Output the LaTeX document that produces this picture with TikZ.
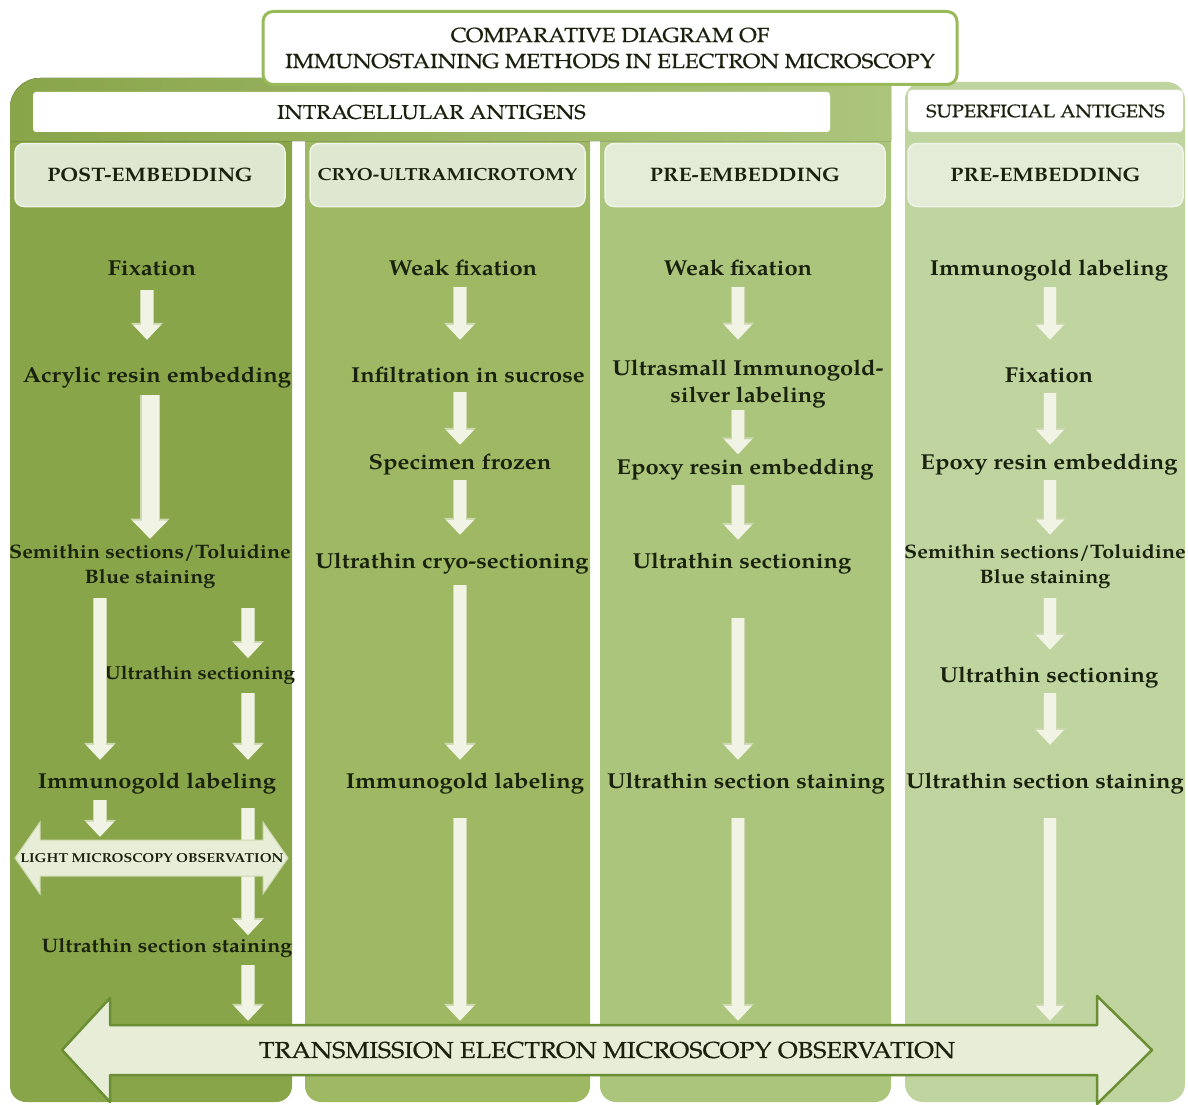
\documentclass[tikz,border=0pt]{standalone}
\usepackage{fontspec}
\setmainfont{TeX Gyre Pagella}[FakeStretch=1.1]
\newfontfamily\capsfont{TeX Gyre Pagella}[FakeStretch=1.1, FakeBold=0.6]
\usetikzlibrary{arrows.meta,calc}
\definecolor{colA}{RGB}{137,165,74}
\definecolor{colB}{RGB}{158,184,99}
\definecolor{colC}{RGB}{172,197,124}
\definecolor{colD}{RGB}{192,212,160}
\definecolor{hdrA}{RGB}{222,231,208}
\definecolor{hdrB}{RGB}{228,236,216}
\definecolor{hdredge}{RGB}{240,244,232}
\definecolor{arrf}{RGB}{241,244,229}
\definecolor{arre}{RGB}{205,216,176}
\definecolor{txt}{RGB}{26,34,14}
\definecolor{frame}{RGB}{152,186,88}
\definecolor{bigedge}{RGB}{106,142,52}
\definecolor{bigfill}{RGB}{232,237,216}
\newcommand\fmain{\fontsize{21.6}{27}\selectfont\bfseries}
\newcommand\fsmall{\fontsize{19.5}{25}\selectfont\bfseries}
\newcommand\fsmaller{\fontsize{18.8}{23}\selectfont\bfseries}
\newcommand\fhdr{\fontsize{19.5}{23}\selectfont\bfseries}
\newcommand\fcryo{\fontsize{17.5}{21}\selectfont\bfseries}
\newcommand\ftitle{\capsfont\fontsize{20.5}{26}\selectfont}
\newcommand\fintra{\capsfont\fontsize{20}{23}\selectfont}
\newcommand\fsup{\capsfont\fontsize{18}{21}\selectfont}
\newcommand\flm{\fontsize{13}{15}\selectfont\bfseries}
\newcommand\ftem{\capsfont\fontsize{23}{27}\selectfont}
\tikzset{
  stp/.style={font=\fmain, text=txt, inner sep=1pt, text height=16pt, text depth=5pt},
  stps/.style={font=\fsmall, text=txt, inner sep=1pt, text height=14pt, text depth=4.5pt},
  stpm/.style={font=\fmain, text=txt, inner sep=1pt, align=center},
  stpsm/.style={font=\fsmall, text=txt, inner sep=1pt, align=center},
  hdr/.style={fill=hdrA, draw=hdredge, line width=1.5pt, rounded corners=9pt, minimum height=63pt, font=\fhdr, text=txt},
  darr/.style={draw=arrf, line width=12pt, -{Triangle[width=27pt,length=15pt]},
    preaction={draw=arre, line width=14.5pt, -{Triangle[width=31pt,length=17pt]}}},
  bigdarr/.style={draw=arrf, line width=17pt, -{Triangle[width=34pt,length=18pt]},
    preaction={draw=arre, line width=19.5pt, -{Triangle[width=38pt,length=20pt]}}},
}
\begin{document}
\begin{tikzpicture}[x=1pt,y=-1pt]
\useasboundingbox (0,0) rectangle (1188,1105);
\fill[white] (0,0) rectangle (1188,1105);
% column panels
\fill[colA, rounded corners=16pt] (10,100) rectangle (292,1102);
\fill[colB, rounded corners=16pt] (305,100) rectangle (590,1102);
\fill[colC, rounded corners=16pt] (600,100) rectangle (891,1102);
\fill[colD, rounded corners=18pt] (905,82) rectangle (1185,1102);
% intracellular band
\fill[left color=colA, right color=colC] (10,141) [rounded corners=30pt]-- (10,78) [sharp corners]-- (891,78) -- (891,141) -- cycle;
% title
\node[draw=frame, line width=3pt, fill=white, rounded corners=10pt, minimum width=694pt, minimum height=73pt, align=center, font=\ftitle, text=txt] (title) at (610,48) {COMPARATIVE DIAGRAM OF\\IMMUNOSTAINING METHODS IN ELECTRON MICROSCOPY};
% group bars
\node[fill=white, rounded corners=3pt, minimum width=797pt, minimum height=40pt, font=\fintra, text=txt] (intra) at (431.5,112) {INTRACELLULAR ANTIGENS};
\node[fill=white, draw=hdredge, rounded corners=4pt, minimum width=275pt, minimum height=42pt, font=\fsup, text=txt] (sup) at (1045.5,111) {SUPERFICIAL ANTIGENS};
% headers
\node[hdr, minimum width=270pt] (h1) at (150,175) {POST-EMBEDDING};
\node[hdr, minimum width=275pt, font=\fcryo] (h2) at (447.5,175) {CRYO-ULTRAMICROTOMY};
\node[hdr, minimum width=280pt, fill=hdrB] (h3) at (745,175) {PRE-EMBEDDING};
\node[hdr, minimum width=275pt, fill=hdrB] (h4) at (1045.5,175) {PRE-EMBEDDING};

% ---------- column 1 ----------
\node[stp] (f1) at (152,270) {Fixation};
\node[stp] (a1) at (157,377) {Acrylic resin embedding};
\node[stpsm] (s1) at (150,567) {Semithin sections/Toluidine\\Blue staining};
\node[stps, font=\fsmaller] (us1) at (200,675) {Ultrathin sectioning};
\node[stp] (im1) at (157,783) {Immunogold labeling};
\node[stps] (us2) at (167,948) {Ultrathin section staining};

% ---------- column 2 ----------
\node[stp] (wf2) at (463,270) {Weak fixation};
\node[stp] (is2) at (468,377) {Infiltration in sucrose};
\node[stp] (sf2) at (460,464) {Specimen frozen};
\node[stp] (uc2) at (452,563) {Ultrathin cryo-sectioning};
\node[stp] (ig2) at (465,783) {Immunogold labeling};

% ---------- column 3 ----------
\node[stp] (wf3) at (738,270) {Weak fixation};
\node[stpm] (ul3) at (748,384) {Ultrasmall Immunogold-\\silver labeling};
\node[stp] (er3) at (745,469) {Epoxy resin embedding};
\node[stp] (ut3) at (742,563) {Ultrathin sectioning};
\node[stp] (ss3) at (746,783) {Ultrathin section staining};

% ---------- column 4 ----------
\node[stp] (ig4) at (1049,270) {Immunogold labeling};
\node[stp] (fx4) at (1049,377) {Fixation};
\node[stp] (er4) at (1049,464) {Epoxy resin embedding};
\node[stpsm] (sm4) at (1045,567) {Semithin sections/Toluidine\\Blue staining};
\node[stp] (us4) at (1049,677) {Ultrathin sectioning};
\node[stp] (ss4) at (1045,783) {Ultrathin section staining};

% ---------- arrows column 1 ----------
\draw[darr, shorten <=8.5pt, shorten >=25.5pt] (f1.south -| 147,0) -- (a1.north -| 147,0);
\draw[bigdarr, shorten <=6.5pt, shorten >=5pt] (a1.south -| 150,0) -- (s1.north -| 150,0);
\draw[darr, shorten <=7.5pt, shorten >=11.5pt] (s1.south -| 100,0) -- (im1.north -| 100,0);
\draw[darr, shorten <=17.5pt, shorten >=6.5pt] (s1.south -| 248,0) -- (us1.north -| 248,0);
\draw[darr, shorten <=7.5pt, shorten >=11.5pt] (us1.south -| 248,0) -- (im1.north -| 248,0);
\draw[darr, shorten <=13.5pt, shorten >=2.5pt] (im1.south -| 248,0) -- (us2.north -| 248,0);
% light microscopy double arrow
\fill[bigfill, draw=arre, line width=1pt] (15,858) -- (40,822) -- (40,840) -- (263,840) -- (263,822) -- (288,858) -- (263,894) -- (263,876) -- (40,876) -- (40,894) -- cycle;
\node[font=\flm, text=txt, minimum height=36pt, inner sep=0pt] (lm) at (152,858) {LIGHT MICROSCOPY OBSERVATION};
\draw[darr, shorten <=5.5pt, shorten >=3pt] (im1.south -| 100,0) -- (lm.north -| 100,0);

% ---------- arrows column 2 ----------
\draw[darr, shorten <=5.5pt, shorten >=25.5pt] (wf2.south -| 460,0) -- (is2.north -| 460,0);
\draw[darr, shorten <=3.5pt, shorten >=7.5pt] (is2.south -| 460,0) -- (sf2.north -| 460,0);
\draw[darr, shorten <=4.5pt, shorten >=16.5pt] (sf2.south -| 460,0) -- (uc2.north -| 460,0);
\draw[darr, shorten <=10.5pt, shorten >=11.5pt] (uc2.south -| 460,0) -- (ig2.north -| 460,0);

% ---------- arrows column 3 ----------
\draw[darr, shorten <=5.5pt, shorten >=19pt] (wf3.south -| 738,0) -- (ul3.north -| 738,0);
\draw[darr, shorten <=1pt, shorten >=3pt] (ul3.south -| 738,0) -- (er3.north -| 738,0);
\draw[darr, shorten <=4.5pt, shorten >=11.5pt] (er3.south -| 738,0) -- (ut3.north -| 738,0);
\draw[darr, shorten <=43.5pt, shorten >=11.5pt] (ut3.south -| 738,0) -- (ss3.north -| 738,0);

% ---------- arrows column 4 ----------
\draw[darr, shorten <=5.5pt, shorten >=25.5pt] (ig4.south -| 1050,0) -- (fx4.north -| 1050,0);
\draw[darr, shorten <=4.5pt, shorten >=7.5pt] (fx4.south -| 1050,0) -- (er4.north -| 1050,0);
\draw[darr, shorten <=4.5pt, shorten >=9pt] (er4.south -| 1050,0) -- (sm4.north -| 1050,0);
\draw[darr, shorten <=8pt, shorten >=15.5pt] (sm4.south -| 1050,0) -- (us4.north -| 1050,0);
\draw[darr, shorten <=4.5pt, shorten >=26.5pt] (us4.south -| 1050,0) -- (ss4.north -| 1050,0);

% TEM double arrow
\fill[bigfill, draw=bigedge, line width=2.5pt, line join=round] (62,1050) -- (110,998) -- (110,1025) -- (1097,1025) -- (1097,996) -- (1152,1050) -- (1097,1104) -- (1097,1075) -- (110,1075) -- (110,1102) -- cycle;
\node[font=\ftem, text=txt, minimum height=50pt, inner sep=0pt] (tem) at (607,1050) {TRANSMISSION ELECTRON MICROSCOPY OBSERVATION};

% ---------- arrows into TEM ----------
\draw[darr, shorten <=6.5pt, shorten >=4pt] (us2.south -| 248,0) -- (tem.north -| 248,0);
\draw[darr, shorten <=23.5pt, shorten >=4pt] (ig2.south -| 460,0) -- (tem.north -| 460,0);
\draw[darr, shorten <=23.5pt, shorten >=4pt] (ss3.south -| 738,0) -- (tem.north -| 738,0);
\draw[darr, shorten <=23.5pt, shorten >=4pt] (ss4.south -| 1050,0) -- (tem.north -| 1050,0);
\end{tikzpicture}
\end{document}
